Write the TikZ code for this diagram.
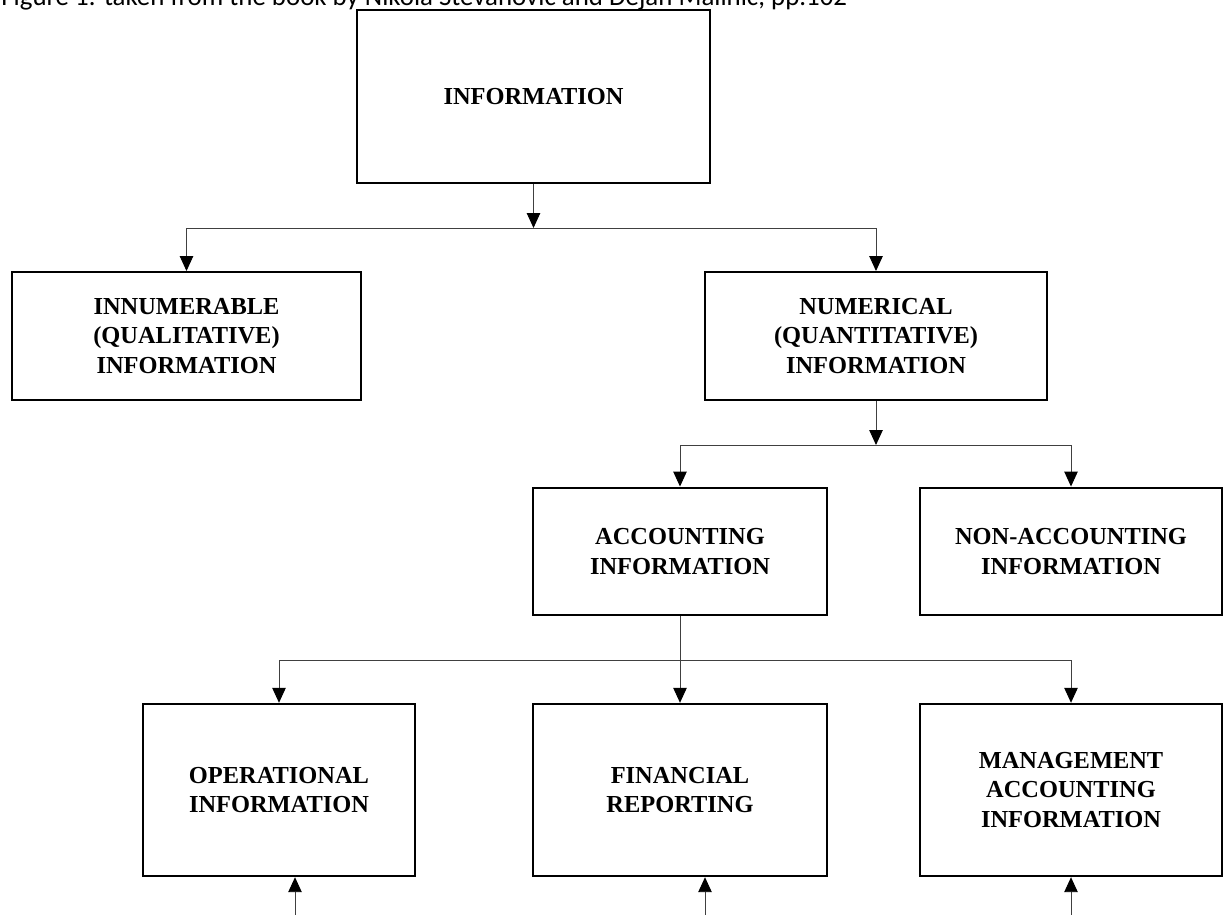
\documentclass[tikz,border=0pt]{standalone}
\usepackage{fontspec}
\setmainfont{Liberation Serif}
\newfontfamily\captionfont{Carlito}
\usetikzlibrary{positioning, calc}
\usetikzlibrary{arrows, arrows.meta}
\tikzset{>={Triangle[length=3mm,width=2.7mm,color=black]}}
\colorlet{myline}{black!75}
\tikzset{ % box styles
  my box/.style={draw,line width=1.4pt,fill=white,align=center,inner sep=0,
    font=\bfseries\fontsize{13.9}{16.6}\selectfont},
  big box/.style={my box,minimum width=#1,minimum height=3.44cm},
  mid box/.style={my box,minimum width=#1,minimum height=2.55cm},
  my link/.style={myline,line width=0.55pt,->}
}

\begin{document}
\begin{tikzpicture}[x=0.02cm,y=-0.02cm]
\useasboundingbox (0,0) rectangle (1223,915);

\node[anchor=base west,font=\captionfont\fontsize{15.3}{18}\selectfont,inner sep=0]
  (cap) at (1,6) {Figure 1: taken from the book by Nikola Stevanović and Dejan Malinić, pp.102};

% boxes
\node[my box,minimum width=7.06cm,minimum height=3.46cm] (info) at (533.5,96.5) {INFORMATION};
\node[mid box=6.98cm] (innum) at (186.5,336) {INNUMERABLE\\(QUALITATIVE)\\INFORMATION};
\node[mid box=6.84cm] (numer) at (876,336) {NUMERICAL\\(QUANTITATIVE)\\INFORMATION};
\node[mid box=5.88cm] (acc)    at (680,551.5)  {ACCOUNTING\\INFORMATION};
\node[mid box=6.04cm] (nonacc) at (1071,551.5) {NON-ACCOUNTING\\INFORMATION};
\node[big box=5.44cm] (oper) at (279,790)  {OPERATIONAL\\INFORMATION};
\node[big box=5.88cm] (fin)  at (680,790)  {FINANCIAL\\REPORTING};
\node[big box=6.04cm] (mgmt) at (1071,790) {MANAGEMENT\\ACCOUNTING\\INFORMATION};

% junctions
\coordinate (s1) at (533.5,228);
\coordinate (s2) at (876,445);
\coordinate (s3) at (680,660);

% connections
\draw[my link] (info) -- (s1);
\draw[my link] (numer) -- (s2);
\draw[myline,line width=0.55pt] (acc) -- (s3);
\foreach\a/\b in {s1/innum,s1/numer,s2/acc,s2/nonacc,s3/oper,s3/fin,s3/mgmt}
  \draw[my link] (\a) -| (\b);

% inputs from below
\foreach\b/\x in {oper/295,fin/705,mgmt/1071}
{
  \coordinate (\b-in) at (\x,915);
  \draw[my link] (\b-in) -- (\b-in |- \b.south);
}
\end{tikzpicture}
\end{document}
